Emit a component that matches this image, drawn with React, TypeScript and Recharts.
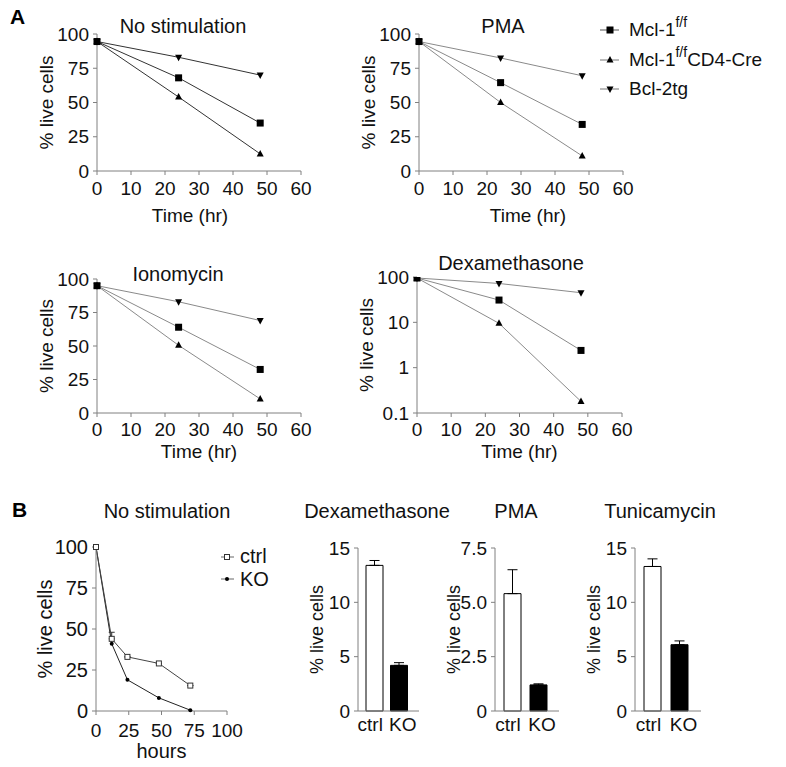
import React from 'react';
import { LineChart, Line, XAxis, YAxis, BarChart, Bar, ErrorBar, Cell } from 'recharts';

const FONT = 'Arial, "Liberation Sans", sans-serif';
const AXIS = '#808080';
const INK = '#111';

// ---- panel A: survival over time, three genotypes ----
const hoursA = [0, 24, 48];
const hourTicksA = [0, 10, 20, 30, 40, 50, 60];
const pctTicks = [0, 25, 50, 75, 100];
const logTicks = [0.1, 1, 10, 100];

const noStimFlox = [94.5, 68, 35];
const noStimCre = [94.5, 54, 12.5];
const noStimBcl = [94.5, 83, 70];

const pmaFlox = [94.5, 64.5, 34];
const pmaCre = [94.5, 50, 11];
const pmaBcl = [94.5, 82.5, 69.5];

const ionoFlox = [95, 64, 32.5];
const ionoCre = [95, 50.5, 10.5];
const ionoBcl = [95, 83, 69];

const dexFlox = [95, 31, 2.4];
const dexCre = [95, 9.5, 0.18];
const dexBcl = [95, 72, 45];

// ---- panel B ----
const hoursB = [0, 12, 24, 48, 72];
const hourTicksB = [0, 25, 50, 75, 100];
const ctrlTime = [100, 44, 33, 29, 15.5];
const ctrlTimeErr = [0, 4, 0, 0, 0];
const koTime = [100, 41, 19, 8, 0.5];

const groups = ['ctrl', 'KO'];
const dexBars = [13.4, 4.2];
const dexBarErr = [0.45, 0.25];
const pmaBars = [5.4, 1.2];
const pmaBarErr = [1.1, 0.05];
const tuniBars = [13.3, 6.1];
const tuniBarErr = [0.7, 0.35];
const ticks15 = [0, 5, 10, 15];
const ticks75 = [0, 2.5, 5, 7.5];

type Box = { x0: number; y0: number; x1: number; y1: number };
const YW = 72;
const TOP = 10;
const RIGHT = 24;
const XH = 60;

const frame = (b: Box) => ({
  left: Math.round(b.x0 - YW),
  top: Math.round(b.y0 - TOP),
  width: Math.round(b.x1 - b.x0 + YW + RIGHT),
  height: Math.round(b.y1 - b.y0 + TOP + XH),
});

const margin = { top: TOP, right: RIGHT, bottom: 0, left: 0 };
const tickStyle = (size: number) => ({ fill: INK, fontSize: size, fontFamily: FONT });

const yLabel = (gap: number, size: number) => ({
  value: '% live cells',
  angle: -90,
  position: 'insideLeft' as const,
  offset: YW - gap,
  style: { textAnchor: 'middle', fontSize: size, fill: INK, fontFamily: FONT },
});

const xLabel = (text: string, gap: number, size: number, dx = 0) => ({
  value: text,
  position: 'insideBottom' as const,
  offset: XH - gap,
  dx,
  style: { fontSize: size, fill: INK, fontFamily: FONT },
});

const square = (p: any) => (
  <rect key={`s-${p.index}`} x={p.cx - 3.5} y={p.cy - 3.5} width={7} height={7} fill="#000" />
);
const triUp = (p: any) => (
  <polygon key={`u-${p.index}`} points={`${p.cx},${p.cy - 4} ${p.cx - 3.5},${p.cy + 2.5} ${p.cx + 3.5},${p.cy + 2.5}`} fill="#000" />
);
const triDown = (p: any) => (
  <polygon key={`d-${p.index}`} points={`${p.cx},${p.cy + 4} ${p.cx - 3.5},${p.cy - 2.5} ${p.cx + 3.5},${p.cy - 2.5}`} fill="#000" />
);
const openSquare = (p: any) => (
  <rect key={`o-${p.index}`} x={p.cx - 2.5} y={p.cy - 2.5} width={5} height={5} fill="#fff" stroke="#333" strokeWidth={1} />
);
const smallDot = (p: any) => <circle key={`k-${p.index}`} cx={p.cx} cy={p.cy} r={2} fill="#000" />;

// group labels sit slightly apart from the bar centres, as in the figure
const groupTick = (p: any) => (
  <text
    x={p.x + (p.index === 0 ? -4 : 4)}
    y={p.y}
    dy="0.71em"
    textAnchor="middle"
    fill={INK}
    fontSize={19}
    fontFamily={FONT}
  >
    {p.payload.value}
  </text>
);

type SurvivalProps = {
  box: Box;
  flox: number[];
  cre: number[];
  bcl: number[];
  stroke: string;
  log?: boolean;
  xGap: number;
  xDx?: number;
  tickGap?: number;
};

const SurvivalPanel = ({ box, flox, cre, bcl, stroke, log, xGap, xDx = 0, tickGap = 7 }: SurvivalProps) => {
  const data = hoursA.map((t, i) => ({ t, flox: flox[i], cre: cre[i], bcl: bcl[i] }));
  const f = frame(box);
  return (
    <div style={{ position: 'absolute', left: f.left, top: f.top }}>
      <LineChart width={f.width} height={f.height} data={data} margin={margin}>
        <XAxis
          type="number"
          dataKey="t"
          domain={[0, 60]}
          ticks={hourTicksA}
          interval={0}
          height={XH}
          stroke={AXIS}
          tickSize={4}
          tickMargin={tickGap}
          tick={tickStyle(19)}
          label={xLabel('Time (hr)', xGap, 19, xDx)}
        />
        {log ? (
          <YAxis
            width={YW}
            scale="log"
            domain={[0.1, 100]}
            ticks={logTicks}
            interval={0}
            allowDataOverflow
            tickFormatter={(v: number) => String(v)}
            stroke={AXIS}
            tickSize={4}
            tickMargin={4}
            tick={tickStyle(19)}
            label={yLabel(51, 19)}
          />
        ) : (
          <YAxis
            width={YW}
            domain={[0, 100]}
            ticks={pctTicks}
            interval={0}
            stroke={AXIS}
            tickSize={4}
            tickMargin={4}
            tick={tickStyle(19)}
            label={yLabel(51, 19)}
          />
        )}
        <Line dataKey="bcl" stroke={stroke} strokeWidth={1} dot={triDown} isAnimationActive={false} />
        <Line dataKey="cre" stroke={stroke} strokeWidth={1} dot={triUp} isAnimationActive={false} />
        <Line dataKey="flox" stroke={stroke} strokeWidth={1} dot={square} isAnimationActive={false} />
      </LineChart>
    </div>
  );
};

const TimeCoursePanel = ({ box }: { box: Box }) => {
  const data = hoursB.map((t, i) => ({
    t,
    ctrl: ctrlTime[i],
    ctrlErr: [0, ctrlTimeErr[i]],
    ko: koTime[i],
  }));
  const f = frame(box);
  return (
    <div style={{ position: 'absolute', left: f.left, top: f.top }}>
      <LineChart width={f.width} height={f.height} data={data} margin={margin}>
        <XAxis
          type="number"
          dataKey="t"
          domain={[0, 100]}
          ticks={hourTicksB}
          interval={0}
          height={XH}
          stroke={AXIS}
          tickSize={4}
          tickMargin={9}
          tick={tickStyle(19)}
          label={xLabel('hours', 47, 20)}
        />
        <YAxis
          width={YW}
          domain={[0, 100]}
          ticks={pctTicks}
          interval={0}
          stroke={AXIS}
          tickSize={4}
          tickMargin={4}
          tick={tickStyle(20)}
          label={yLabel(51, 20)}
        />
        <Line dataKey="ko" stroke="#222" strokeWidth={1} dot={smallDot} isAnimationActive={false} />
        <Line dataKey="ctrl" stroke="#444" strokeWidth={1} dot={openSquare} isAnimationActive={false}>
          <ErrorBar dataKey="ctrlErr" width={3} stroke="#333" strokeWidth={1} direction="y" />
        </Line>
      </LineChart>
    </div>
  );
};

type BarProps = { box: Box; values: number[]; errs: number[]; ticks: number[]; fmt?: (v: number) => string };

const BarPanel = ({ box, values, errs, ticks, fmt }: BarProps) => {
  const data = groups.map((g, i) => ({ g, v: values[i], e: [0, errs[i]] }));
  const f = frame(box);
  return (
    <div style={{ position: 'absolute', left: f.left, top: f.top }}>
      <BarChart width={f.width} height={f.height} data={data} margin={margin}>
        <XAxis
          dataKey="g"
          height={XH}
          stroke={AXIS}
          tickLine={false}
          tickSize={4}
          tickMargin={3}
          padding={{ left: 4, right: 8 }}
          interval={0}
          tick={groupTick}
        />
        <YAxis
          width={YW}
          domain={[0, ticks[ticks.length - 1]]}
          ticks={ticks}
          interval={0}
          tickFormatter={fmt}
          stroke={AXIS}
          tickSize={4}
          tickMargin={4}
          tick={tickStyle(19)}
          label={yLabel(41, 18)}
        />
        <Bar dataKey="v" barSize={17} stroke="#000" strokeWidth={1} isAnimationActive={false}>
          {data.map((d, i) => (
            <Cell key={d.g} fill={i === 0 ? '#fff' : '#000'} />
          ))}
          <ErrorBar dataKey="e" width={5} stroke="#000" strokeWidth={1} direction="y" />
        </Bar>
      </BarChart>
    </div>
  );
};

const titles = [
  { text: 'No stimulation', x: 183, y: 33 },
  { text: 'PMA', x: 503, y: 33 },
  { text: 'Ionomycin', x: 178, y: 281 },
  { text: 'Dexamethasone', x: 511, y: 270 },
  { text: 'No stimulation', x: 167, y: 518 },
  { text: 'Dexamethasone', x: 377, y: 518 },
  { text: 'PMA', x: 516, y: 518 },
  { text: 'Tunicamycin', x: 660, y: 518 },
];

const Overlay = () => (
  <svg width={786} height={767} style={{ position: 'absolute', left: 0, top: 0, pointerEvents: 'none' }} fontFamily={FONT}>
    <text x={10} y={24} fontSize={21} fontWeight="bold" fill="#000">A</text>
    <text x={12} y={517} fontSize={21} fontWeight="bold" fill="#000">B</text>
    {titles.map((t, i) => (
      <text key={i} x={t.x} y={t.y} fontSize={20} fill={INK} textAnchor="middle">{t.text}</text>
    ))}
    {/* legend for panel A */}
    <g fill={INK} fontSize={19}>
      <line x1={600} x2={619} y1={30} y2={30} stroke="#555" />
      {square({ cx: 610, cy: 30, index: 'l1' })}
      <text x={629} y={36}>Mcl-1<tspan dy={-9} fontSize={14}>f/f</tspan></text>
      <line x1={600} x2={619} y1={60} y2={60} stroke="#777" />
      {triUp({ cx: 610, cy: 60, index: 'l2' })}
      <text x={629} y={66}>Mcl-1<tspan dy={-9} fontSize={14}>f/f</tspan><tspan dy={9}>CD4-Cre</tspan></text>
      <line x1={600} x2={619} y1={89} y2={89} stroke="#777" />
      {triDown({ cx: 610, cy: 89, index: 'l3' })}
      <text x={629} y={95}>Bcl-2tg</text>
    </g>
    {/* legend for panel B */}
    <g fill={INK} fontSize={20}>
      <line x1={221} x2={234} y1={557} y2={557} stroke="#666" />
      {openSquare({ cx: 227, cy: 557, index: 'l4' })}
      <text x={240} y={563}>ctrl</text>
      <line x1={221} x2={234} y1={579} y2={579} stroke="#666" />
      {smallDot({ cx: 227, cy: 579, index: 'l5' })}
      <text x={240} y={586}>KO</text>
    </g>
  </svg>
);

const App = () => (
  <div style={{ position: 'absolute', left: 0, top: 0, width: 786, height: 767, background: '#fff', fontFamily: FONT }}>
    <SurvivalPanel box={{ x0: 97, y0: 34, x1: 301, y1: 171 }} flox={noStimFlox} cre={noStimCre} bcl={noStimBcl} stroke="#333" xGap={51} xDx={-9} />
    <SurvivalPanel box={{ x0: 419, y0: 34, x1: 623, y1: 171 }} flox={pmaFlox} cre={pmaCre} bcl={pmaBcl} stroke="#8a8a8a" xGap={51} xDx={7} />
    <SurvivalPanel box={{ x0: 97, y0: 279, x1: 301, y1: 413 }} flox={ionoFlox} cre={ionoCre} bcl={ionoBcl} stroke="#8a8a8a" xGap={45} tickGap={6} />
    <SurvivalPanel box={{ x0: 417, y0: 277, x1: 622, y1: 413 }} flox={dexFlox} cre={dexCre} bcl={dexBcl} stroke="#8a8a8a" log xGap={45} tickGap={6} />
    <TimeCoursePanel box={{ x0: 96, y0: 547, x1: 227, y1: 711 }} />
    <BarPanel box={{ x0: 358, y0: 548, x1: 419, y1: 711 }} values={dexBars} errs={dexBarErr} ticks={ticks15} />
    <BarPanel box={{ x0: 495, y0: 548, x1: 559, y1: 711 }} values={pmaBars} errs={pmaBarErr} ticks={ticks75} fmt={(v: number) => (v === 0 ? '0' : v.toFixed(1))} />
    <BarPanel box={{ x0: 635, y0: 548, x1: 701, y1: 711 }} values={tuniBars} errs={tuniBarErr} ticks={ticks15} />
    <Overlay />
  </div>
);

export default App;
